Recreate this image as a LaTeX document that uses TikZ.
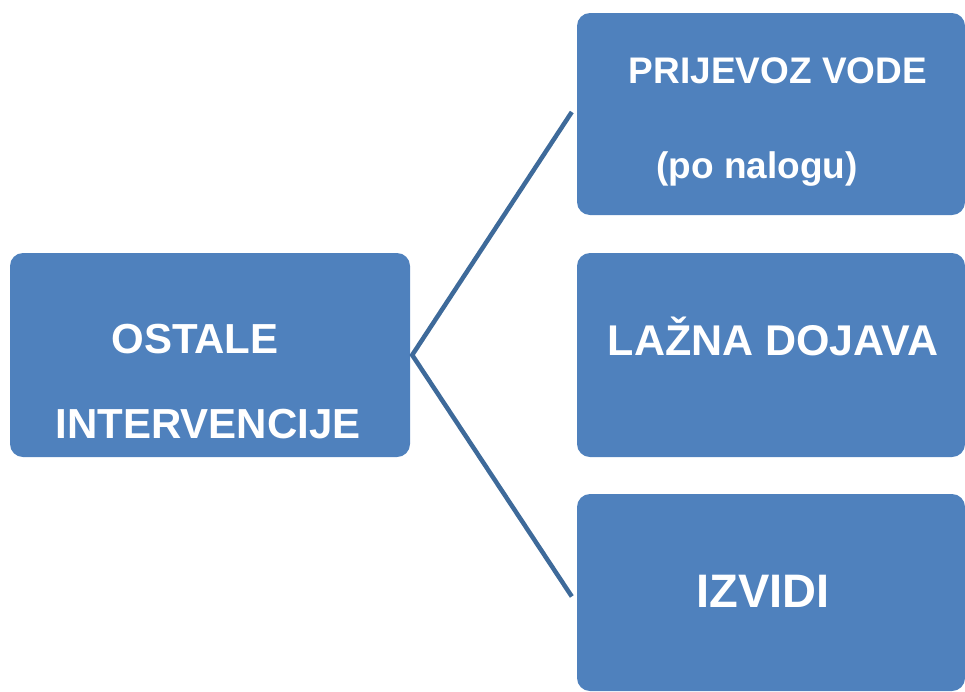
\documentclass[tikz,border=0pt]{standalone}
\usepackage{fontspec}
\setmainfont{Liberation Sans}
\usepackage{tikz}
\usetikzlibrary{positioning,calc}

\definecolor{boxblue}{HTML}{4F81BD}
\definecolor{lineblue}{HTML}{3E6A9A}

\begin{document}
\begin{tikzpicture}[x=1pt,y=-1pt,
                    box/.style={rectangle,rounded corners=13pt,fill=boxblue,draw=none,inner sep=0pt},
                    lbl/.style={anchor=base,text=white,font=\bfseries,inner sep=0pt},
                    link/.style={draw=lineblue,line width=4.5pt}]
            \useasboundingbox (0,0) rectangle (965,691);
            %Boxes
                \node[box,minimum width=400pt,minimum height=204pt] (ostale) at (210,355) {};
                \node[box,minimum width=388pt,minimum height=202pt] (prijevoz) at (771,114) {};
                \node[box,minimum width=388pt,minimum height=204pt] (dojava) at (771,355) {};
                \node[box,minimum width=388pt,minimum height=197pt] (izvidi) at (771,592.5) {};

            %Texts
                \node[lbl,font=\fontsize{42}{50}\selectfont\bfseries] (t1) at (195,353) {OSTALE};
                \node[lbl,font=\fontsize{42}{50}\selectfont\bfseries] (t2) at (208,438) {INTERVENCIJE};
                \node[lbl,font=\fontsize{37}{44}\selectfont\bfseries] (t3) at (778,83) {PRIJEVOZ VODE};
                \node[lbl,font=\fontsize{37}{44}\selectfont\bfseries] (t4) at (757,178) {(po nalogu)};
                \node[lbl,font=\fontsize{43}{50}\selectfont\bfseries] (t5) at (773,355) {LAŽNA DOJAVA};
                \node[lbl,font=\fontsize{47}{56}\selectfont\bfseries] (t6) at (763,607) {IZVIDI};

            %Lines
                \draw[link] ([xshift=-5pt,yshift=2pt]prijevoz.west) -- ([xshift=2pt]ostale.east) -- ([xshift=-5pt,yshift=-4pt]izvidi.west);
            \end{tikzpicture}
\end{document}
